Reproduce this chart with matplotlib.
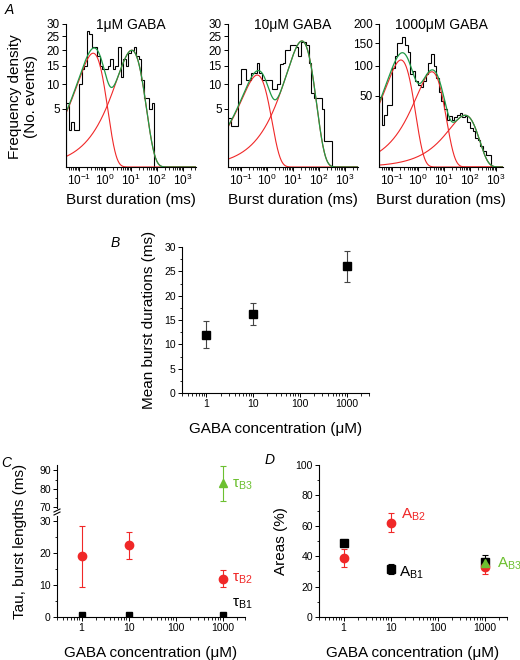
import numpy as np
import matplotlib
matplotlib.use("Agg")
import matplotlib.pyplot as plt
from matplotlib.ticker import LogLocator, NullFormatter, FixedLocator, MultipleLocator

plt.rcParams['font.family'] = ['Liberation Sans', 'DejaVu Sans']
plt.rcParams['mathtext.fontset'] = 'custom'
plt.rcParams['mathtext.rm'] = 'Liberation Sans'
plt.rcParams['mathtext.it'] = 'Liberation Sans:italic'
plt.rcParams['axes.linewidth'] = 0.8

# ---- data: panel A histograms (counts per log bin, 10 bins/decade from 10^-1.5 ms)
hist_start = -1.5
counts_1uM = [6, 2, 3, 2, 2, 10, 14, 15, 27, 26, 21, 21, 18, 15, 14, 14, 15, 17,
              14, 15, 21, 12, 17, 15, 19, 20, 21, 18, 17, 11, 7, 7, 5, 6]
counts_10uM = [3.5, 2.5, 2.5, 2.5, 10, 14, 14, 11, 11, 13, 13, 16, 13, 11, 11, 11,
               11, 9, 9, 10, 15.5, 16, 20, 20, 22, 22, 21, 18, 23, 23, 22, 16, 8,
               7, 7, 7, 5, 1, 1, 1]
counts_1000uM = [48, 17, 26, 38, 38, 95, 120, 150, 150, 165, 145, 130, 85, 90, 72,
                 65, 63, 72, 85, 105, 125, 100, 78, 55, 42, 33, 22, 25, 22, 24, 26,
                 28, 24, 25, 20, 15, 13, 8, 7, 4.5, 2.5, 1.5, 1.5]

# fitted exponential components: time constants (ms) and peak heights
tau_1uM = [0.35, 10.7]
peak_1uM = [19, 20]
tau_10uM = [0.42, 22]
peak_10uM = [12.4, 23.3]
tau_1000uM = [0.22, 3.4, 65]
peak_1000uM = [112, 88.7, 26.2]

titles_A = ['1\u03bcM GABA', '10\u03bcM GABA', '1000\u03bcM GABA']

# ---- panel B
conc = [1, 10, 1000]
mean_burst = [12.0, 16.2, 26.0]
mean_burst_err = [2.7, 2.3, 3.2]

# ---- panel C
tauB1 = [0.5, 0.5, 0.6]
tauB1_err = [0.1, 0.1, 0.1]
tauB2 = [19.0, 22.3, 12.0]
tauB2_err = [9.5, 4.3, 2.7]
tauB3 = [83.0]
tauB3_err = [9.5]

# ---- panel D
areaB1 = [49.0, 31.5, 36.5]
areaB1_err = [1.5, 3.5, 4.2]
areaB2 = [39.0, 62.0, 33.0]
areaB2_err = [6.0, 6.3, 5.0]
areaB3 = [35.5]
areaB3_err = [3.0]

W, H = 520, 660
fig = plt.figure(figsize=(W / 100, H / 100), dpi=100)


def px_axes(l, r, t, b):
    return fig.add_axes([l / W, 1 - b / H, (r - l) / W, (b - t) / H])


RED = '#f02828'
GREEN_FIT = '#1f9a45'
GREEN = '#6cc030'


def style(ax, labelsize=8):
    ax.spines['top'].set_visible(False)
    ax.spines['right'].set_visible(False)
    ax.tick_params(which='major', direction='out', length=3, width=0.7,
                   labelsize=labelsize, pad=1.5)
    ax.tick_params(which='minor', direction='out', length=1.8, width=0.6)


sqrt_fwd = lambda y: np.sqrt(np.clip(y, 0, None))
sqrt_inv = lambda y: np.square(y)

# ---------------- Panel A
panels = [
    (66, 196, 3.5, counts_1uM, tau_1uM, peak_1uM, 30, [5, 10, 15, 20, 25, 30]),
    (228, 358, 3.5, counts_10uM, tau_10uM, peak_10uM, 30, [5, 10, 15, 20, 25, 30]),
    (379, 503, 3.27, counts_1000uM, tau_1000uM, peak_1000uM, 200, [50, 100, 150, 200]),
]
for i, (l, r, xmax_log, counts, taus, peaks, ymax, yticks) in enumerate(panels):
    ax = px_axes(l, r, 24, 167)
    edges = 10 ** (hist_start + np.arange(len(counts) + 1) / 10)
    ax.stairs(counts, edges, color='black', lw=0.8, baseline=0)
    t = np.logspace(-1.6, 3.6, 500)
    total = np.zeros_like(t)
    for tau, pk in zip(taus, peaks):
        comp = pk * (t / tau) * np.exp(1 - t / tau)
        total += comp
        ax.plot(t, comp, color=RED, lw=0.8)
    ax.plot(t, total, color=GREEN_FIT, lw=0.9)
    ax.set_xscale('log')
    ax.set_yscale('function', functions=(sqrt_fwd, sqrt_inv))
    ax.set_xlim(10 ** -1.5, 10 ** xmax_log)
    ax.set_ylim(0, ymax)
    ax.yaxis.set_major_locator(FixedLocator(yticks))
    ax.yaxis.set_minor_locator(FixedLocator([]))
    ax.xaxis.set_major_locator(LogLocator(base=10, numticks=10))
    ax.xaxis.set_minor_locator(LogLocator(base=10, subs=np.arange(2, 10), numticks=20))
    ax.xaxis.set_minor_formatter(NullFormatter())
    style(ax, labelsize=8.5)
    ax.text(0.5, 0.99, titles_A[i], transform=ax.transAxes, ha='center', va='center',
            fontsize=10)
    ax.set_xlabel('Burst duration (ms)', fontsize=11, labelpad=3)

fig.text(23 / W, 1 - 97 / H, 'Frequency density\n(No. events)', rotation=90,
         ha='center', va='center', fontsize=11, linespacing=1.1)
fig.text(5 / W, 1 - 10 / H, 'A', fontsize=10, style='italic', ha='left', va='center')


def conc_axis(ax):
    ax.set_xscale('log')
    ax.set_xlim(0.3, 3000)
    ax.xaxis.set_major_locator(FixedLocator([1, 10, 100, 1000]))
    ax.set_xticklabels(['1', '10', '100', '1000'])
    ax.xaxis.set_minor_locator(LogLocator(base=10, subs=np.arange(2, 10), numticks=20))
    ax.xaxis.set_minor_formatter(NullFormatter())


# ---------------- Panel B
axB = px_axes(182, 369, 247, 393)
axB.errorbar(conc, mean_burst, yerr=mean_burst_err, fmt='s', color='black',
             ms=5.5, capsize=2.5, elinewidth=0.8, capthick=0.8, ecolor='#444444')
conc_axis(axB)
axB.set_ylim(0, 30)
axB.yaxis.set_major_locator(MultipleLocator(5))
axB.yaxis.set_minor_locator(MultipleLocator(2.5))
style(axB, labelsize=7.5)
axB.set_ylabel('Mean burst durations (ms)', fontsize=11, labelpad=6)
axB.set_xlabel('GABA concentration (\u03bcM)', fontsize=11, labelpad=9)
fig.text(115 / W, 1 - 243 / H, 'B', fontsize=10, style='italic', ha='center', va='center')

# ---------------- Panel C (broken y axis)
axC = px_axes(57, 245, 516, 617)
axCu = px_axes(57, 245, 465, 508)
for ax in (axC, axCu):
    ax.errorbar(conc, tauB1, yerr=tauB1_err, fmt='s', color='black', ms=5,
                capsize=2, elinewidth=0.8)
    ax.errorbar(conc, tauB2, yerr=tauB2_err, fmt='o', color=RED, ms=6,
                capsize=2.5, elinewidth=0.8, capthick=0.8)
    ax.errorbar([1000], tauB3, yerr=tauB3_err, fmt='^', color=GREEN, ms=6,
                capsize=2.5, elinewidth=0.8, capthick=0.8)
    conc_axis(ax)
    style(ax, labelsize=7.5)
axC.set_ylim(0, 31.5)
axC.yaxis.set_major_locator(FixedLocator([0, 10, 20, 30]))
axC.yaxis.set_minor_locator(FixedLocator([5, 15, 25]))
axCu.set_ylim(69.5, 93)
axCu.yaxis.set_major_locator(FixedLocator([70, 80, 90]))
axCu.yaxis.set_minor_locator(FixedLocator([75, 85]))
axCu.spines['bottom'].set_visible(False)
axCu.tick_params(axis='x', which='both', bottom=False, labelbottom=False)
axCu.patch.set_alpha(0)
# break marks
for yb in (510.5, 513.5):
    fig.add_artist(plt.Line2D([54 / W, 60 / W], [1 - (yb + 1.5) / H, 1 - (yb - 1.5) / H],
                              color='black', lw=0.8))
axC.text(1600, 4, '\u03c4$_{\\mathrm{B1}}$', color='black', fontsize=11,
         ha='left', va='center', clip_on=False)
axC.text(1600, 12, '\u03c4$_{\\mathrm{B2}}$', color=RED, fontsize=11,
         ha='left', va='center', clip_on=False)
axCu.text(1600, 82, '\u03c4$_{\\mathrm{B3}}$', color=GREEN, fontsize=11,
          ha='left', va='center', clip_on=False)
axC.set_xlabel('GABA concentration (\u03bcM)', fontsize=11, labelpad=9)
fig.text(20 / W, 1 - 541 / H, 'Tau, burst lengths (ms)', rotation=90,
         ha='center', va='center', fontsize=11)
fig.text(6 / W, 1 - 463 / H, 'C', fontsize=10, style='italic', ha='center', va='center')

# ---------------- Panel D
axD = px_axes(319, 507, 465, 617)
axD.errorbar(conc, areaB1, yerr=areaB1_err, fmt='s', color='black', ms=5.5,
             capsize=2.5, elinewidth=0.8, capthick=0.8)
axD.errorbar(conc, areaB2, yerr=areaB2_err, fmt='o', color=RED, ms=6,
             capsize=2.5, elinewidth=0.8, capthick=0.8)
axD.errorbar([1000], areaB3, yerr=areaB3_err, fmt='^', color=GREEN, ms=6,
             capsize=2.5, elinewidth=0.8, capthick=0.8)
conc_axis(axD)
axD.set_ylim(0, 100)
axD.yaxis.set_major_locator(MultipleLocator(20))
axD.yaxis.set_minor_locator(MultipleLocator(10))
style(axD, labelsize=7.5)
axD.text(17, 67, 'A$_{\\mathrm{B2}}$', color=RED, fontsize=11, ha='left', va='center')
axD.text(15, 29, 'A$_{\\mathrm{B1}}$', color='black', fontsize=11, ha='left', va='center')
axD.text(1800, 35, 'A$_{\\mathrm{B3}}$', color=GREEN, fontsize=11, ha='left',
         va='center', clip_on=False)
axD.set_ylabel('Areas (%)', fontsize=11, labelpad=5)
axD.set_xlabel('GABA concentration (\u03bcM)', fontsize=11, labelpad=9)
fig.text(270 / W, 1 - 460 / H, 'D', fontsize=10, style='italic', ha='center', va='center')

fig.savefig('out.png', dpi=100)
